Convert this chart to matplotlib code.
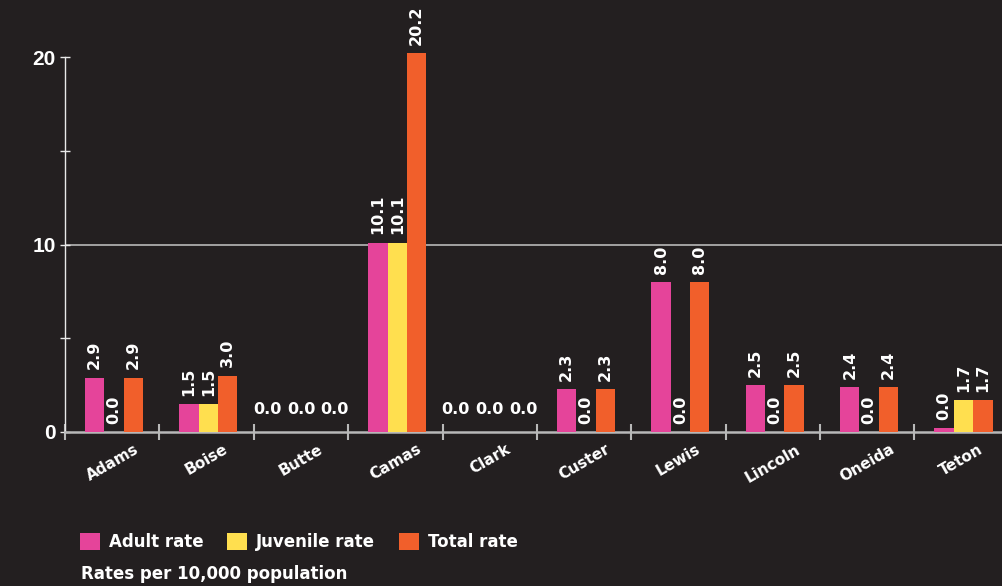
import matplotlib
matplotlib.use('Agg')
import matplotlib.pyplot as plt
import numpy as np
from matplotlib.patches import Rectangle

# ---- data ----
counties = ["Adams", "Boise", "Butte", "Camas", "Clark", "Custer", "Lewis", "Lincoln", "Oneida", "Teton"]
adult = [2.9, 1.5, 0.0, 10.1, 0.0, 2.3, 8.0, 2.5, 2.4, 0.2]
adult_labels = ["2.9", "1.5", "0.0", "10.1", "0.0", "2.3", "8.0", "2.5", "2.4", "0.0"]
juvenile = [0.0, 1.5, 0.0, 10.1, 0.0, 0.0, 0.0, 0.0, 0.0, 1.7]
juvenile_labels = ["0.0", "1.5", "0.0", "10.1", "0.0", "0.0", "0.0", "0.0", "0.0", "1.7"]
total = [2.9, 3.0, 0.0, 20.2, 0.0, 2.3, 8.0, 2.5, 2.4, 1.7]
total_labels = ["2.9", "3.0", "0.0", "20.2", "0.0", "2.3", "8.0", "2.5", "2.4", "1.7"]
series_names = ["Adult rate", "Juvenile rate", "Total rate"]
y_ticks = [0, 10, 20]
y_minor_ticks = [5, 15]
caption = "Rates per 10,000 population"

# ---- style ----
BG = "#231f20"
COLORS = ["#e5449a", "#ffdf4f", "#f15f2b"]
GRAY = "#b8b8b8"
WHITE = "#ffffff"

fig = plt.figure(figsize=(10.03, 5.86), dpi=100, facecolor=BG)
ax = fig.add_axes([0.0648, 0.2628, 0.941, 0.6463])
ax.set_facecolor(BG)

x = np.arange(len(counties))
width = 0.205
offsets = [-0.205, 0.0, 0.205]
series = [adult, juvenile, total]
labels = [adult_labels, juvenile_labels, total_labels]

for vals, off, col in zip(series, offsets, COLORS):
    ax.bar(x + off + 0.02, vals, width=width, color=col, linewidth=0, zorder=3)

ax.set_xlim(-0.5, 9.5)
ax.set_ylim(0, 20.2)

# value labels
for i in range(len(counties)):
    group_vals = [s[i] for s in series]
    if all(v == 0 for v in group_vals):
        for j in range(3):
            ax.annotate(labels[j][i], xy=(x[i] + (j - 1) * 0.36, 0), xytext=(0, 11),
                        textcoords="offset points", ha="center", va="bottom",
                        color=WHITE, fontsize=11.5, fontweight="bold", zorder=5)
    else:
        for j in range(3):
            ax.annotate(labels[j][i], xy=(x[i] + offsets[j] + 0.02, series[j][i]), xytext=(0, 6),
                        textcoords="offset points", ha="center", va="bottom",
                        rotation=90, color=WHITE, fontsize=11.5, fontweight="bold", zorder=5)

# gridlines at inner major ticks
for t in y_ticks:
    if 0 < t < max(y_ticks):
        ax.axhline(t, color=GRAY, linewidth=1.2, zorder=1)

# spines
for s in ["top", "right"]:
    ax.spines[s].set_visible(False)
ax.spines["left"].set_color("#e8e8e8")
ax.spines["left"].set_linewidth(1.0)
ax.spines["left"].set_bounds(0, 20)
ax.spines["bottom"].set_color(GRAY)
ax.spines["bottom"].set_linewidth(1.8)

# y ticks
ax.set_yticks(y_ticks)
ax.set_yticks(y_minor_ticks, minor=True)
ax.set_yticklabels([str(t) for t in y_ticks])
ax.tick_params(axis="y", which="both", direction="inout", length=7, width=1.0,
               color="#e8e8e8", pad=3)
for lab in ax.get_yticklabels():
    lab.set_fontfamily("Liberation Sans")
    lab.set_fontweight("bold")
    lab.set_fontsize(15)
    lab.set_color(WHITE)

# x ticks
ax.set_xticks(x)
ax.set_xticks(np.arange(-0.5, len(counties), 1.0), minor=True)
ax.set_xticklabels(counties, rotation=30, ha="center", va="top",
                   fontsize=11, fontweight="bold", color=WHITE)
ax.tick_params(axis="x", which="major", length=0, pad=7)
ax.tick_params(axis="x", which="minor", direction="inout", length=12, width=1.5, color=GRAY)

# legend
handles = [Rectangle((0, 0), 1, 1, facecolor=c, edgecolor="none") for c in COLORS]
fig.legend(handles, series_names, loc="center left",
           bbox_to_anchor=(80 / 1003, 1 - 542 / 586), ncol=3, frameon=False,
           prop={"weight": "bold", "size": 12}, labelcolor=WHITE,
           handlelength=1.2, handleheight=1.2, handletextpad=0.55,
           columnspacing=1.4, borderpad=0, borderaxespad=0)

fig.text(81 / 1003, 1 - 574 / 586, caption, ha="left", va="center",
         color=WHITE, fontsize=12, fontweight="bold")

fig.savefig("out.png", dpi=100, facecolor=BG)
